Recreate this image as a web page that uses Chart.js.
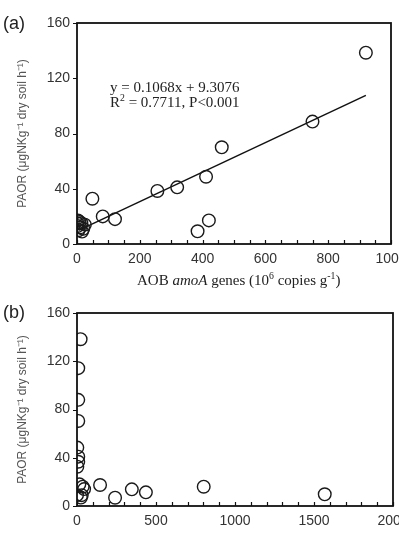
<!DOCTYPE html>
<html>
<head>
<meta charset="utf-8">
<script src="https://cdn.jsdelivr.net/npm/chart.js@4/dist/chart.umd.min.js"></script>
<style>
  body { margin: 0; width: 399px; height: 537px; overflow: hidden; position: relative; background: #fff; }
  .wrap { position: absolute; left: 0; width: 430px; }
  #wrapA { top: 0; height: 268px; }
  #wrapB { top: 268px; height: 269px; }
  .panel { position: absolute; left: 3px; font: 18px/20px "Liberation Sans", Arial, sans-serif; color: #222; }
  .serif { position: absolute; font-family: "Liberation Serif", "Times New Roman", serif; color: #222; white-space: nowrap; }
  sup { font-size: 65%; line-height: 0; }
</style>
</head>
<body>
<div class="wrap" id="wrapA"><canvas id="chartA" width="430" height="268"></canvas></div>
<div class="wrap" id="wrapB"><canvas id="chartB" width="430" height="269"></canvas></div>

<div class="panel" style="top:13px">(a)</div>
<div class="panel" style="top:302px">(b)</div>
<div class="serif" style="left:110px;top:80px;font-size:15px;line-height:14.5px">
  y = 0.1068x + 9.3076<br>R<sup>2</sup> = 0.7711, P&lt;0.001
</div>
<div class="serif" style="left:137px;top:272px;font-size:15px;line-height:16px">
  AOB <i>amoA</i> genes (10<sup>6</sup> copies g<sup>-1</sup>)
</div>

<script>
// panel (a): PAOR vs AOB amoA
const aobGenes = [920, 750, 461, 411, 420, 384, 319, 256, 121, 82, 49,
                  3, 8, 14, 2, 10, 20, 5, 16, 25, 1]
const paorA = [138.5, 88.6, 70, 48.7, 17.1, 9.2, 41, 38.4, 18, 20, 32.8,
               17, 16, 15, 13, 12, 11, 10, 9, 14, 15]

// regression shown on the plot
const slope = 0.1068
const intercept = 9.3076
const fitRange = [5, 920]

// panel (b): PAOR vs second gene copies
const aoaGenes = [23, 8, 8, 8, 2, 8, 8, 2, 15, 36, 0, 30, 45, 25,
                  146, 241, 347, 436, 802, 1568]
const paorB = [138.3, 114.3, 88, 70.5, 48.4, 40.9, 36.7, 32.6, 18, 16, 9, 9, 14, 7,
               17.4, 6.9, 13.8, 11.3, 16, 9.7]

const yTicks = [0, 40, 80, 120, 160]
const yTitle = 'PAOR (\u03bcgNKg\u207b\u00b9 dry soil h\u207b\u00b9)'

// box + inward x ticks + outward y ticks
const framePlugin = {
  id: 'frame',
  afterDatasetsDraw(chart) {
    const {ctx, chartArea: a, scales: {x, y}} = chart
    ctx.save()
    ctx.strokeStyle = '#111'
    ctx.lineWidth = 1.8
    ctx.strokeRect(a.left, a.top, a.right - a.left, a.bottom - a.top)
    ctx.lineWidth = 1.2
    ctx.beginPath()
    x.ticks.forEach(t => {
      const px = Math.round(x.getPixelForValue(t.value)) + 0.5
      ctx.moveTo(px, a.bottom)
      ctx.lineTo(px, a.bottom - 4)
    })
    y.ticks.forEach(t => {
      const py = Math.round(y.getPixelForValue(t.value)) + 0.5
      ctx.moveTo(a.left - 4, py)
      ctx.lineTo(a.left, py)
    })
    ctx.stroke()
    ctx.restore()
  }
}

function makeChart (canvasId, xs, ys, xMax, step, labelEvery, areaTop, areaBottom, areaRight, extra) {
  const el = document.getElementById(canvasId)
  const points = xs.map((v, i) => ({x: v, y: ys[i]}))
  const datasets = [{
    data: points,
    pointRadius: 6.3,
    pointHoverRadius: 6.3,
    pointBorderWidth: 1.4,
    borderColor: '#1a1a1a',
    backgroundColor: 'rgba(0,0,0,0)'
  }]
  if (extra) datasets.push(extra)

  return new Chart(el, {
    type: 'scatter',
    data: {datasets: datasets},
    options: {
      responsive: false,
      animation: false,
      layout: {padding: {top: areaTop, right: el.width - areaRight, left: 0, bottom: 0}},
      plugins: {legend: {display: false}, tooltip: {enabled: false}},
      scales: {
        x: {
          type: 'linear', min: 0, max: xMax,
          grid: {display: false, drawTicks: false},
          border: {display: false},
          afterFit: s => { s.height = el.height - areaBottom },
          ticks: {
            stepSize: step, autoSkip: false, maxRotation: 0, padding: 7,
            color: '#333', font: {family: '"Liberation Sans", Arial, sans-serif', size: 14},
            callback: v => (v % labelEvery === 0 ? String(v) : '')
          }
        },
        y: {
          min: 0, max: 160,
          grid: {display: false, drawTicks: false},
          border: {display: false},
          afterFit: s => { s.width = 77 },
          afterBuildTicks: s => { s.ticks = yTicks.map(v => ({value: v})) },
          ticks: {
            padding: 7, color: '#333',
            font: {family: '"Liberation Sans", Arial, sans-serif', size: 14}
          },
          title: {
            display: true, text: yTitle, color: '#555',
            font: {family: '"Liberation Sans", Arial, sans-serif', size: 12},
            padding: {top: 15, bottom: 0}
          }
        }
      }
    },
    plugins: [framePlugin]
  })
}

const fitLine = {
  type: 'line',
  data: fitRange.map(v => ({x: v, y: slope * v + intercept})),
  borderColor: '#111',
  borderWidth: 1.5,
  pointRadius: 0,
  fill: false
}

makeChart('chartA', aobGenes, paorA, 1000, 50, 200, 23, 244, 391, fitLine)
makeChart('chartB', aoaGenes, paorB, 2000, 100, 500, 45, 238, 393, null)
</script>
</body>
</html>
